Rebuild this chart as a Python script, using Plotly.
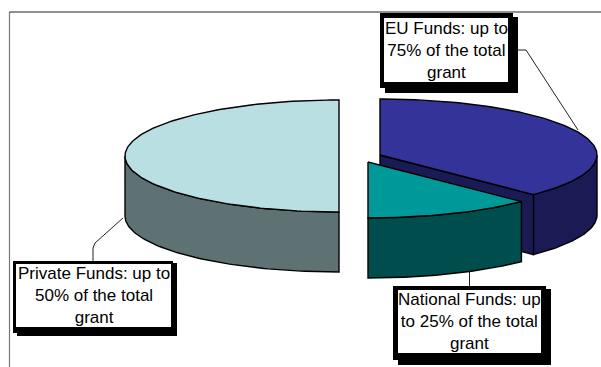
import numpy as np
import plotly.graph_objects as go

# Share of the pie per funding source, clockwise from twelve o'clock
slice_names = ["EU Funds", "National Funds", "Private Funds"]
slice_shares = [37.5, 12.5, 50.0]
label_texts = [
    "EU Funds: up to<br>75% of the total<br>grant",
    "National Funds: up<br>to 25% of the total<br>grant",
    "Private Funds: up to<br>50% of the total<br>grant",
]

top_colors = ["#333399", "#009999", "#B9DFE3"]
side_colors = ["#1A1A55", "#004D4D", "#5E7273"]

# Exploded centre of each wedge and the pie's projected proportions
centres = [(380, 155), (368, 162), (339, 156)]
radii = [(217, 56), (217, 56), (214, 56)]
depth = 60

# Callout boxes: frame, shadow and white interior as (x0, y0, x1, y1)
frames = [(380, 13, 513, 88), (393, 286, 546, 360), (13, 261, 173, 333)]
shadows = [(385, 17, 518, 93), (398, 289, 551, 365), (17, 263, 177, 336)]
interiors = [(384, 18, 508, 82), (398, 290, 541, 353), (16, 264, 171, 327)]
leaders = [
    ([518, 526, 578], [50, 50, 130]),
    ([469.5, 469.5], [270, 286]),
    ([123, 95, 93, 93], [218, 243, 248, 261]),
]

edges = np.cumsum([0.0] + slice_shares) / 100 * 2 * np.pi


def rim(i, a, b, drop=0.0, n=80):
    """Points along a wedge's rim between two clockwise angles."""
    cx, cy = centres[i]
    rx, ry = radii[i]
    t = np.linspace(a, b, n)
    return cx + rx * np.sin(t), cy - ry * np.cos(t) + drop


def poly(xs, ys, color, name):
    return go.Scatter(
        x=list(xs) + [xs[0]], y=list(ys) + [ys[0]], mode="lines", fill="toself",
        fillcolor=color, line=dict(color="#000000", width=1.4),
        name=name, hoverinfo="name", showlegend=False,
    )


def side(i, a, b):
    """Visible outer wall of a wedge between two angles."""
    x1, y1 = rim(i, a, b)
    x2, y2 = rim(i, b, a, drop=depth)
    return poly(np.r_[x1, x2], np.r_[y1, y2], side_colors[i], slice_names[i])


def top(i):
    cx, cy = centres[i]
    x, y = rim(i, edges[i], edges[i + 1], n=160)
    return poly(np.r_[cx, x], np.r_[cy, y], top_colors[i], slice_names[i])


fig = go.Figure()

# Frame around the plot area
fig.add_trace(go.Scatter(x=[9.5, 9.5], y=[367, 12], mode="lines",
                         line=dict(color="#777777", width=1.2), hoverinfo="skip", showlegend=False))
fig.add_trace(go.Scatter(x=[9.5, 601], y=[12, 12], mode="lines",
                         line=dict(color="#222222", width=1.2), hoverinfo="skip", showlegend=False))

# Private wedge: left half, wall visible from six o'clock round to nine o'clock
fig.add_trace(side(2, edges[2], edges[2] + np.pi / 2))
fig.add_trace(top(2))

# EU wedge: outer wall from three o'clock, then the cut face towards the viewer
fig.add_trace(side(0, np.pi / 2, edges[1]))
cx, cy = centres[0]
ex, ey = rim(0, edges[1], edges[1], n=1)
fig.add_trace(poly([cx, ex[0], ex[0], cx], [cy, ey[0], ey[0] + depth, cy + depth],
                   side_colors[0], slice_names[0]))
fig.add_trace(top(0))

# National wedge sits in front of the EU cut face
fig.add_trace(side(1, edges[1], edges[2]))
fig.add_trace(top(1))

# Leader lines from wedges to their callouts
for lx, ly in leaders:
    fig.add_trace(go.Scatter(x=lx, y=ly, mode="lines", line=dict(color="#222222", width=1),
                             hoverinfo="skip", showlegend=False))

shapes = []
for boxes, color in ((shadows, "#000000"), (frames, "#000000"), (interiors, "#FFFFFF")):
    for x0, y0, x1, y1 in boxes:
        shapes.append(dict(type="rect", xref="x", yref="y", x0=x0, y0=y0, x1=x1, y1=y1,
                           fillcolor=color, line=dict(width=0), layer="above"))

annotations = []
for text, (x0, y0, x1, y1) in zip(label_texts, interiors):
    annotations.append(dict(
        x=(x0 + x1) / 2, y=(y0 + y1) / 2, xref="x", yref="y", text=text, showarrow=False,
        xanchor="center", yanchor="middle", align="center",
        font=dict(family="Liberation Sans", size=17, color="#000000"),
    ))

fig.update_layout(
    width=601, height=367, margin=dict(l=0, r=0, t=0, b=0),
    paper_bgcolor="#FFFFFF", plot_bgcolor="#FFFFFF",
    xaxis=dict(range=[0, 601], visible=False, fixedrange=True),
    yaxis=dict(range=[367, 0], visible=False, fixedrange=True),
    shapes=shapes, annotations=annotations, showlegend=False,
)

fig.write_html("out.html", config={"displayModeBar": False})
